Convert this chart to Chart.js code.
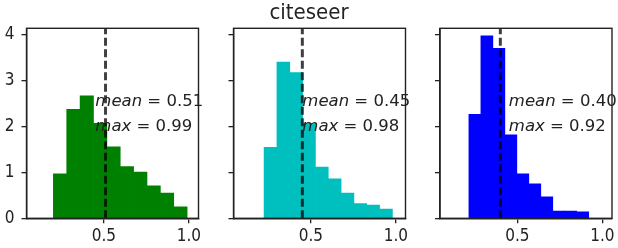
<!DOCTYPE html>
<html><head><meta charset="utf-8">
<script src="https://cdn.jsdelivr.net/npm/chart.js@4/dist/chart.umd.min.js"></script>
<style>
html,body{margin:0;padding:0;background:#fff;}
#wrap{position:relative;width:618px;height:248px;overflow:hidden;}
canvas{position:absolute;left:0;top:0;}
</style></head><body>
<div id="wrap">
<canvas id="c0" width="618" height="248"></canvas>
<canvas id="c1" width="618" height="248"></canvas>
<canvas id="c2" width="618" height="248"></canvas>
</div>
<script>
// ---- data ----
const title = 'citeseer';
const xTicks = [0.5, 1.0];
const yTicks = [0, 1, 2, 3, 4];
const means = [0.51, 0.45, 0.40];
const maxes = [0.99, 0.98, 0.92];
const binStart = [0.203, 0.225, 0.215];
const binEnd = [0.99, 0.98, 0.92];
const density0 = [0.97, 2.38, 2.67, 2.07, 1.56, 1.13, 1.01, 0.71, 0.55, 0.25];
const density1 = [1.55, 3.41, 3.18, 2.07, 1.12, 0.86, 0.55, 0.32, 0.29, 0.20];
const density2 = [2.27, 3.98, 3.71, 1.82, 0.97, 0.75, 0.47, 0.16, 0.16, 0.14];
const densities = [density0, density1, density2];
const colors = ['#008000', '#00bfbf', '#0000ff'];
const textX = 0.45;
const meanTextY = 2.44;
const maxTextY = 1.9;

// ---- layout / style ----
const FAM = '"DejaVu Sans Condensed", "DejaVu Sans", sans-serif';
const AFAM = '"DejaVu Sans", sans-serif';
const X_MIN = 0.045, X_MAX = 1.057, Y_MIN = 0, Y_MAX = 4.146;
const plotLeft = [26.5, 233.5, 440];
const plotW = 172, plotTop = 28.3, plotBottom = 218.3;
const W = 618, H = 248;
const INK = '#222';

const boxPlugin = {
  id: 'box',
  afterDraw(chart) {
    const a = chart.chartArea, ctx = chart.ctx;
    ctx.save();
    ctx.strokeStyle = INK; ctx.lineWidth = 1.4;
    ctx.strokeRect(a.left, a.top, a.right - a.left, a.bottom - a.top);
    ctx.restore();
  }
};

function annotPlugin(i) {
  return {
    id: 'annot' + i,
    afterDatasetsDraw(chart) {
      const ctx = chart.ctx;
      const x = chart.scales.x.getPixelForValue(textX);
      const rows = [['mean', means[i], meanTextY], ['max', maxes[i], maxTextY]];
      ctx.save();
      ctx.fillStyle = INK;
      ctx.textBaseline = 'alphabetic';
      ctx.textAlign = 'left';
      rows.forEach(([name, val, ty]) => {
        const y = chart.scales.y.getPixelForValue(ty);
        ctx.font = 'italic 16.5px ' + AFAM;
        ctx.fillText(name, x, y);
        const w = ctx.measureText(name).width;
        ctx.font = '16.5px ' + AFAM;
        ctx.fillText(' = ' + val.toFixed(2), x + w, y);
      });
      ctx.restore();
    }
  };
}

function makeChart(i) {
  const n = densities[i].length;
  const bw = (binEnd[i] - binStart[i]) / n;
  const bars = densities[i].map((d, k) => ({ x: binStart[i] + bw * (k + 0.5), y: d }));
  const isMid = i === 1;
  const yW = isMid ? 21 : (i === 0 ? 26.5 : 26);
  const padLeft = plotLeft[i] - yW;
  const padRight = W - (plotLeft[i] + plotW);
  const xH = H - plotBottom;
  return new Chart(document.getElementById('c' + i), {
    data: {
      datasets: [
        { type: 'line', order: 0,
          data: [{ x: means[i], y: Y_MIN }, { x: means[i], y: Y_MAX }],
          borderColor: 'rgba(0,0,0,0.75)', borderWidth: 3, borderDash: [8, 3.5],
          pointRadius: 0, fill: false, tension: 0 },
        { type: 'bar', order: 1, data: bars,
          backgroundColor: colors[i], borderWidth: 0,
          barPercentage: 1, categoryPercentage: 1 }
      ]
    },
    options: {
      responsive: false, animation: false, devicePixelRatio: 1,
      layout: { padding: { left: padLeft, right: padRight, top: isMid ? 0 : plotTop, bottom: 0 } },
      plugins: {
        legend: { display: false }, tooltip: { enabled: false },
        title: {
          display: isMid, text: title, align: 'center', color: INK,
          font: { family: FAM, size: 22, weight: 'normal', lineHeight: 1.2 },
          padding: { top: 0, bottom: plotTop - 22 * 1.2 }
        }
      },
      scales: {
        x: {
          type: 'linear', min: X_MIN, max: X_MAX, offset: false,
          afterBuildTicks: s => { s.ticks = xTicks.map(v => ({ value: v })); },
          afterFit: s => { s.height = xH; s.paddingLeft = 0; s.paddingRight = 0; },
          ticks: { color: INK, padding: 3, maxRotation: 0, autoSkip: false,
                   font: { family: FAM, size: 17 }, callback: v => Number(v).toFixed(1) },
          grid: { display: true, drawOnChartArea: false, drawTicks: true, tickLength: 5,
                  color: INK, lineWidth: 1.3, offset: false },
          border: { display: true, color: INK, width: 1.4 }
        },
        y: {
          type: 'linear', min: Y_MIN, max: Y_MAX,
          afterBuildTicks: s => { s.ticks = yTicks.map(v => ({ value: v })); },
          afterFit: s => { s.width = yW; s.paddingTop = 0; s.paddingBottom = 0; },
          ticks: { color: INK, padding: 7, font: { family: FAM, size: 17 },
                   callback: v => (i === 0 ? String(v) : '') },
          grid: { display: true, drawOnChartArea: false, drawTicks: true, tickLength: 5,
                  color: INK, lineWidth: 1.3 },
          border: { display: true, color: INK, width: 1.4 }
        }
      }
    },
    plugins: [boxPlugin, annotPlugin(i)]
  });
}
[0, 1, 2].forEach(makeChart);
</script>
</body></html>
